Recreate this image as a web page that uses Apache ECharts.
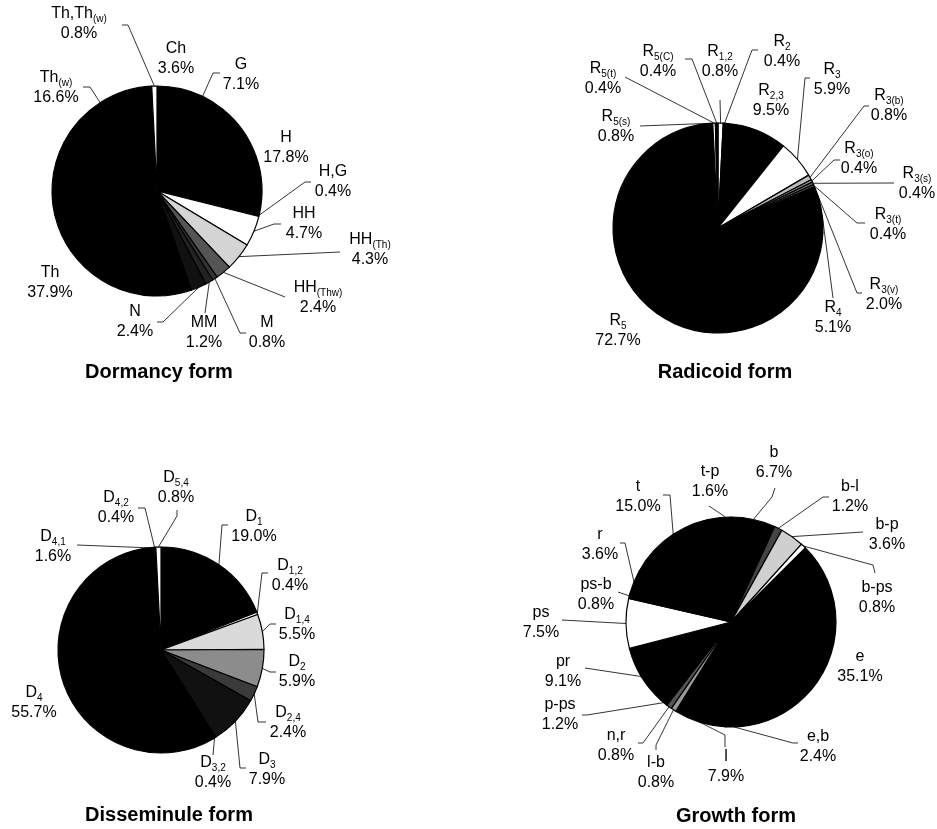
<!DOCTYPE html>
<html>
<head>
<meta charset="utf-8">
<title>Life forms</title>
<script src="https://cdn.jsdelivr.net/npm/echarts@6/dist/echarts.min.js"></script>
<style>
  html, body { margin: 0; padding: 0; background: #fff; }
  #chart { width: 937px; height: 829px; }
</style>
</head>
<body>
<div id="chart"></div>
<script>
// Dormancy form (clockwise from 12 o'clock)
var dormNames = ['Ch', 'G', 'H', 'H,G', 'HH', 'HH(Th)', 'HH(Thw)', 'M', 'MM', 'N', 'Th', 'Th(w)', 'Th,Th(w)'];
var dormValues = [3.6, 7.1, 17.8, 0.4, 4.7, 4.3, 2.4, 0.8, 1.2, 2.4, 37.9, 16.6, 0.8];

// Radicoid form
var radNames = ['R1,2', 'R2', 'R2,3', 'R3', 'R3(b)', 'R3(o)', 'R3(s)', 'R3(t)', 'R3(v)', 'R4', 'R5', 'R5(s)', 'R5(t)', 'R5(C)'];
var radValues = [0.8, 0.4, 9.5, 5.9, 0.8, 0.4, 0.4, 0.4, 2.0, 5.1, 72.7, 0.8, 0.4, 0.4];

// Disseminule form
var dissNames = ['D1', 'D1,2', 'D1,4', 'D2', 'D2,4', 'D3', 'D3,2', 'D4', 'D4,1', 'D4,2', 'D5,4'];
var dissValues = [19.0, 0.4, 5.5, 5.9, 2.4, 7.9, 0.4, 55.7, 1.6, 0.4, 0.8];

// Growth form
var growNames = ['b', 'b-l', 'b-p', 'b-ps', 'e', 'e,b', 'l', 'l-b', 'n,r', 'p-ps', 'pr', 'ps', 'ps-b', 'r', 't', 't-p'];
var growValues = [6.7, 1.2, 3.6, 0.8, 35.1, 2.4, 7.9, 0.8, 0.8, 1.2, 9.1, 7.5, 0.8, 3.6, 15.0, 1.6];

// slice fills
var dormColors = ['#000', '#000', '#000', '#000', '#fff', '#d4d4d4', '#555', '#333', '#222', '#111', '#000', '#000', '#fff'];
var radColors = ['#fff', '#000', '#000', '#fff', '#bbb', '#999', '#777', '#444', '#000', '#000', '#000', '#000', '#fff', '#000'];
var dissColors = ['#000', '#fff', '#dadada', '#8c8c8c', '#3a3a3a', '#111', '#000', '#000', '#000', '#000', '#fff'];
var growColors = ['#000', '#444', '#cfcfcf', '#fff', '#000', '#000', '#000', '#999', '#555', '#000', '#000', '#fff', '#000', '#000', '#000', '#000'];

// label placement on the page, and leader line bends after the slice edge
var dormLabels = [
  {at: [176, 59]},
  {at: [241, 75], line: [[213, 73], [220, 73]]},
  {at: [286, 148]},
  {at: [333, 182], line: [[305, 182], [311, 182]]},
  {at: [304, 224], line: [[274, 224], [281, 224]]},
  {at: [370, 250], line: [[340, 252]]},
  {at: [318, 298], line: [[285, 297]]},
  {at: [267, 333], line: [[240, 333], [246, 333]]},
  {at: [204, 333], line: [[205, 313]]},
  {at: [135, 322], line: [[163, 322], [157, 322]]},
  {at: [50, 283]},
  {at: [56, 88], line: [[90, 87], [83, 87]]},
  {at: [79, 24], line: [[128, 25], [122, 25]]}
];
var radLabels = [
  {at: [720, 62], line: [[720, 100]]},
  {at: [782, 52], line: [[752, 50], [758, 50]]},
  {at: [771, 101]},
  {at: [832, 80], line: [[805, 78], [810, 78]]},
  {at: [889, 106], line: [[864, 106], [869, 106]]},
  {at: [859, 159], line: [[834, 160], [840, 160]]},
  {at: [917, 184], line: [[894, 183]]},
  {at: [888, 225], line: [[857, 223], [865, 223]]},
  {at: [884, 295], line: [[857, 293], [862, 293]]},
  {at: [833, 318], line: [[833, 298]]},
  {at: [618, 331]},
  {at: [616, 127], line: [[640, 126]]},
  {at: [603, 79], line: [[625, 77]]},
  {at: [658, 62], line: [[692, 59], [685, 59]]}
];
var dissLabels = [
  {at: [254, 527], line: [[222, 525], [228, 525]]},
  {at: [290, 576], line: [[262, 573], [268, 573]]},
  {at: [297, 625], line: [[270, 624], [276, 624]]},
  {at: [297, 672], line: [[270, 672], [276, 672]]},
  {at: [288, 723], line: [[258, 722], [266, 722]]},
  {at: [267, 770], line: [[240, 768], [246, 768]]},
  {at: [213, 773], line: [[213, 755]]},
  {at: [34, 703]},
  {at: [53, 547], line: [[77, 545]]},
  {at: [116, 508], line: [[145, 508], [138, 508]]},
  {at: [176, 488], line: [[177, 516], [177, 510]]}
];
var growLabels = [
  {at: [774, 463], line: [[772, 497], [775, 488]]},
  {at: [850, 497], line: [[823, 497], [829, 497]]},
  {at: [887, 535], line: [[863, 532]]},
  {at: [877, 598], line: [[873, 565], [875, 573]]},
  {at: [860, 667]},
  {at: [818, 747], line: [[793, 743], [798, 743]]},
  {at: [726, 767], line: [[725, 735], [725, 747]]},
  {at: [656, 773], line: [[656, 745], [656, 750]]},
  {at: [616, 746], line: [[643, 743], [638, 743]]},
  {at: [560, 715], line: [[587, 715], [582, 715]]},
  {at: [563, 672], line: [[585, 668]]},
  {at: [541, 623], line: [[562, 620]]},
  {at: [596, 595], line: [[618, 592]]},
  {at: [600, 545], line: [[625, 543], [620, 543]]},
  {at: [638, 497], line: [[670, 495], [663, 495]]},
  {at: [710, 482], line: [[709, 506]]}
];

var FONT = '"Liberation Sans", Arial, Helvetica, sans-serif';

// "R5(t)" -> R + subscript "5(t)"
function richName(name) {
  var m = name.match(/^(.*?)([0-9(].*)$/);
  if (!m) return '{n|' + name + '}';
  return '{n|' + m[1] + '}{s|' + m[2] + '}';
}

// point on the rim at the middle of slice i
function edgePoint(values, i, c, r) {
  var total = 0, before = 0;
  values.forEach(function(v, k) {
    total += v;
    if (k < i) before += v;
  });
  var a = (before + values[i] / 2) / total * 2 * Math.PI;
  return [c[0] + r * Math.sin(a), c[1] - r * Math.cos(a)];
}

function makePie(names, values, colors, labels, center, radius) {
  return {
    type: 'pie',
    center: center,
    radius: radius,
    startAngle: 90,
    clockwise: true,
    avoidLabelOverlap: false,
    silent: true,
    data: names.map(function(n, i) {
      return {
        name: n,
        value: values[i],
        itemStyle: {color: colors[i]},
        labelLine: {show: !!labels[i].line}
      };
    }),
    itemStyle: {borderColor: '#000', borderWidth: 1.2, borderJoin: 'round'},
    label: {
      show: true,
      align: 'center',
      formatter: function(p) {
        return richName(p.name) + '\n{n|' + p.value.toFixed(1) + '%}';
      },
      rich: {
        n: {fontSize: 16, lineHeight: 20, color: '#000', fontFamily: FONT},
        s: {fontSize: 10, lineHeight: 12, color: '#000', fontFamily: FONT, verticalAlign: 'bottom'}
      }
    },
    labelLine: {show: true, length: 10, length2: 10, lineStyle: {color: '#000', width: 0.8}},
    labelLayout: function(p) {
      var lb = labels[p.dataIndex];
      var out = {x: lb.at[0], y: lb.at[1], align: 'center', verticalAlign: 'middle'};
      if (lb.line) {
        out.labelLinePoints = [edgePoint(values, p.dataIndex, center, radius)].concat(lb.line);
      }
      return out;
    }
  };
}

var titles = [
  {text: 'Dormancy form', at: [159, 372]},
  {text: 'Radicoid form', at: [725, 372]},
  {text: 'Disseminule form', at: [169, 815]},
  {text: 'Growth form', at: [736, 816]}
];

var myChart = echarts.init(document.getElementById('chart'));
var option = {
  backgroundColor: '#fff',
  animation: false,
  graphic: titles.map(function(t) {
    return {
      type: 'text',
      x: t.at[0],
      y: t.at[1],
      style: {
        text: t.text,
        fill: '#000',
        font: 'bold 20px ' + FONT,
        align: 'center',
        verticalAlign: 'middle'
      }
    };
  }),
  series: [
    makePie(dormNames, dormValues, dormColors, dormLabels, [157, 191], 105),
    makePie(radNames, radValues, radColors, radLabels, [718, 228], 105),
    makePie(dissNames, dissValues, dissColors, dissLabels, [161, 650], 103),
    makePie(growNames, growValues, growColors, growLabels, [731, 622], 105)
  ]
};
myChart.setOption(option);
</script>
</body>
</html>
